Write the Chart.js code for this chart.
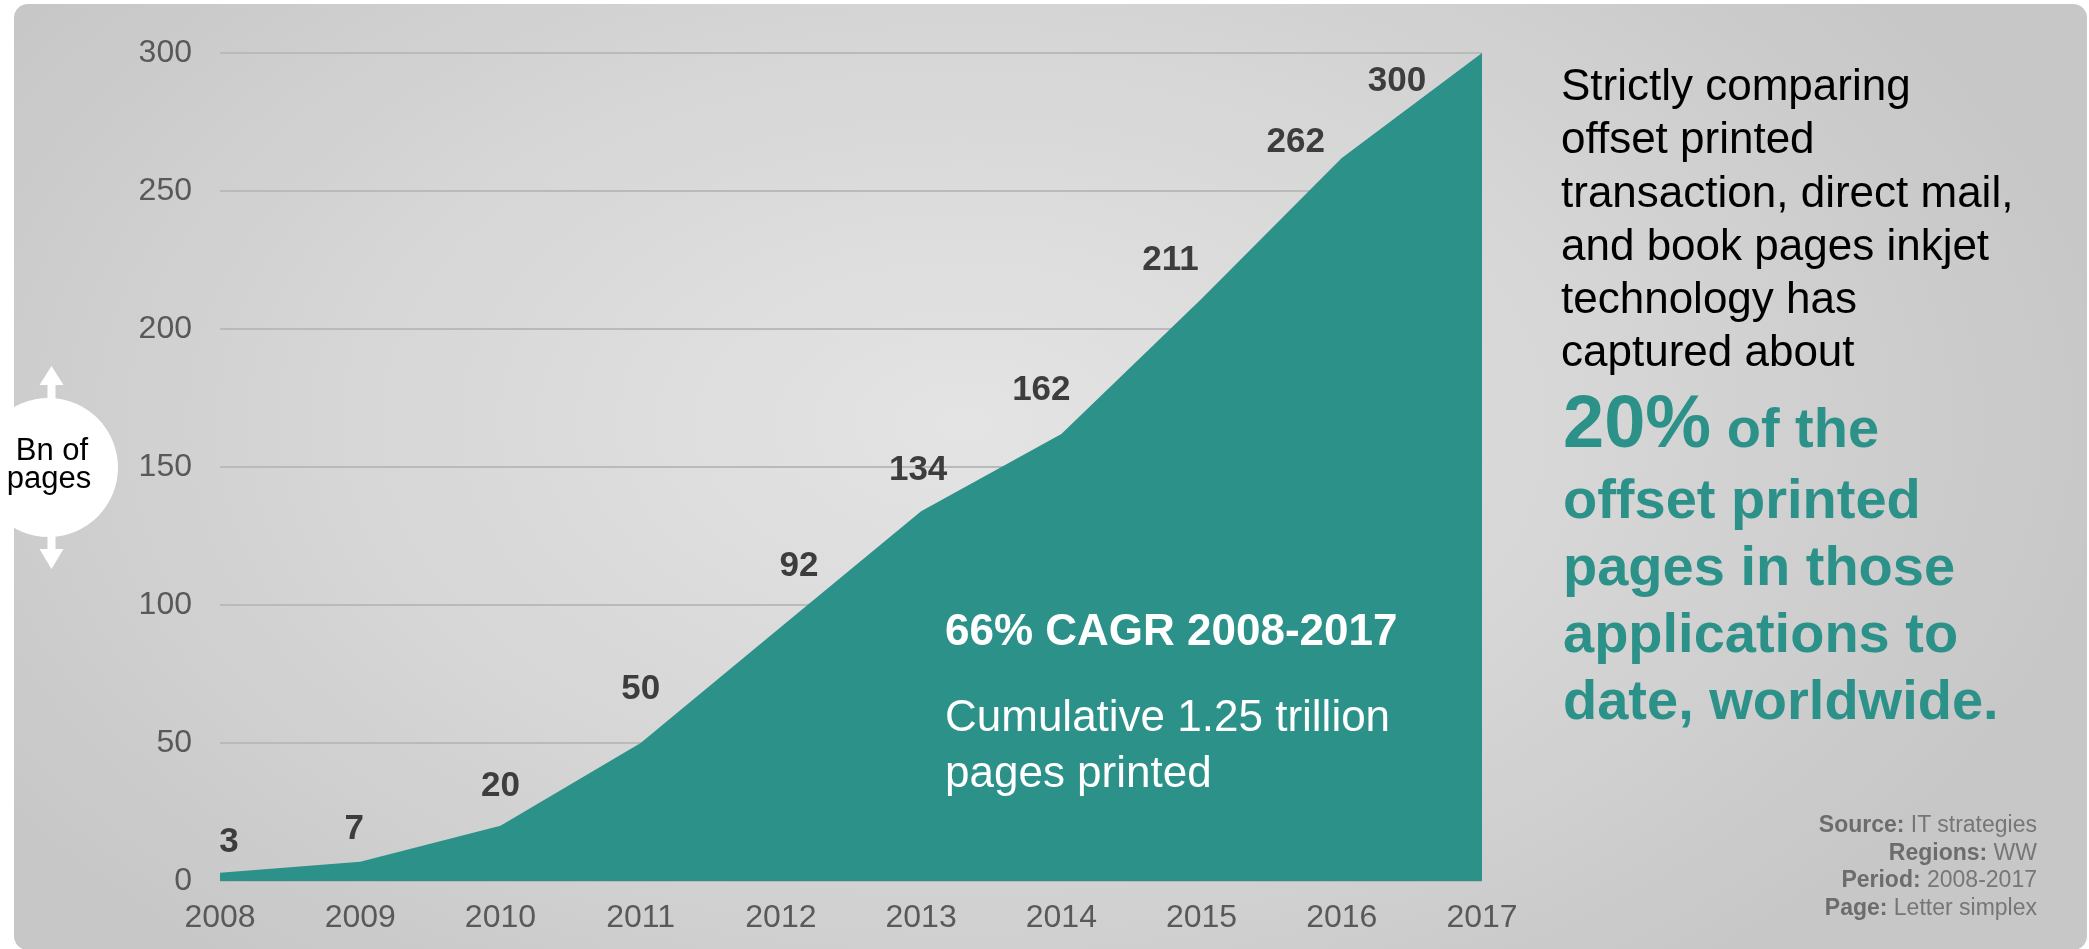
<!DOCTYPE html>
<html>
<head>
<meta charset="utf-8">
<script src="https://cdn.jsdelivr.net/npm/chart.js@4.4.0/dist/chart.umd.min.js"></script>
<style>
    html, body { margin: 0; padding: 0; background: #fff; width: 2089px; height: 949px; overflow: hidden; }
    body { position: relative; font-family: "Liberation Sans", Arial, sans-serif; }
    #panel {
        position: absolute; left: 14px; top: 4px; width: 2073px; height: 946px; border-radius: 14px;
        background: radial-gradient(ellipse 1150px 700px at 950px 420px, #e4e4e4 0%, #d6d6d6 55%, #c7c7c7 100%);
    }
    #chart { position: absolute; left: 0; top: 0; }
    .txt { position: absolute; white-space: nowrap; }
    #side { left: 1561px; top: 58px; font-size: 44px; line-height: 53.3px; color: #000; }
    #big1 { left: 1563px; top: 385px; font-size: 74px; line-height: 1; color: #2c9189; font-weight: bold; }
    #big1 span { font-size: 56px; }
    #big2 { left: 1563px; top: 465px; font-size: 56px; line-height: 67px; color: #2c9189; font-weight: bold; }
    #cagr { left: 945px; top: 608px; font-size: 44px; line-height: 1; color: #fff; font-weight: bold; }
    #cumul { left: 945px; top: 688px; font-size: 44px; line-height: 56px; color: #fff; }
    #source { right: 52px; top: 811px; font-size: 23px; line-height: 27.5px; color: #767676; text-align: right; }
    #source b { color: #6c6c6c; }
    #unit { position: absolute; left: 0; top: 0; }
</style>
</head>
<body>
<div id="panel"></div>
<canvas id="chart" width="2089" height="949"></canvas>

<svg id="unit" width="140" height="600">
    <circle cx="48.5" cy="467.5" r="69.5" fill="#fff"/>
    <polygon points="51.5,366 63.5,385 55.5,385 55.5,402 47.5,402 47.5,385 39.5,385" fill="#fff"/>
    <polygon points="51.5,569 63.5,549 55.5,549 55.5,533 47.5,533 47.5,549 39.5,549" fill="#fff"/>
    <text x="52" y="460" text-anchor="middle" font-family="Liberation Sans, Arial, sans-serif" font-size="31" fill="#000">Bn of</text>
    <text x="49" y="488" text-anchor="middle" font-family="Liberation Sans, Arial, sans-serif" font-size="31" fill="#000">pages</text>
</svg>

<div class="txt" id="side">Strictly comparing<br>offset printed<br>transaction, direct mail,<br>and book pages inkjet<br>technology has<br>captured about</div>
<div class="txt" id="big1">20%<span> of the</span></div>
<div class="txt" id="big2">offset printed<br>pages in those<br>applications to<br>date, worldwide.</div>
<div class="txt" id="cagr">66% CAGR 2008-2017</div>
<div class="txt" id="cumul">Cumulative 1.25 trillion<br>pages printed</div>
<div class="txt" id="source"><b>Source:</b> IT strategies<br><b>Regions:</b> WW<br><b>Period:</b> 2008-2017<br><b>Page:</b> Letter simplex</div>

<script>
// Données : milliards de pages imprimées en jet d'encre
const years = ['2008', '2009', '2010', '2011', '2012', '2013', '2014', '2015', '2016', '2017'];
const pages = [3, 7, 20, 50, 92, 134, 162, 211, 262, 300];
const yTicks = [0, 50, 100, 150, 200, 250, 300];

// Décalage des étiquettes (placées à la main dans l'original)
const labelNudges = [[9, -30], [-6, -32], [0, -39], [0, -54], [18, -61], [-3, -41], [-20, -44], [-31, -38], [-46, -16], [-85, 28]];

const teal = '#2c9189';
const fontFamily = '"Liberation Sans", Arial, sans-serif';

const valueLabels = {
    id: 'valueLabels',
    afterDatasetsDraw(chart) {
        const ctx = chart.ctx;
        const meta = chart.getDatasetMeta(0);
        ctx.save();
        ctx.font = 'bold 35px ' + fontFamily;
        ctx.fillStyle = '#3d3d3d';
        ctx.textAlign = 'center';
        ctx.textBaseline = 'middle';
        meta.data.forEach((pt, i) => {
            const n = labelNudges[i] || [0, -35];
            ctx.fillText(String(pages[i]), pt.x + n[0], pt.y + n[1]);
        });
        ctx.restore();
    }
};

new Chart(document.getElementById('chart').getContext('2d'), {
    type: 'line',
    data: {
        labels: years,
        datasets: [{
            data: pages,
            fill: 'origin',
            backgroundColor: teal,
            borderWidth: 0,
            borderColor: teal,
            pointRadius: 0,
            tension: 0
        }]
    },
    options: {
        responsive: false,
        devicePixelRatio: 1,
        animation: false,
        layout: { padding: { left: 0, top: 53, right: 607, bottom: 0 } },
        plugins: { legend: { display: false }, tooltip: { enabled: false } },
        scales: {
            x: {
                offset: false,
                grid: { display: false, drawTicks: false },
                border: { display: false },
                ticks: { color: '#595959', font: { family: fontFamily, size: 32 }, padding: 18, maxRotation: 0 },
                afterFit: (s) => { s.height = 68; }
            },
            y: {
                min: yTicks[0],
                max: yTicks[yTicks.length - 1],
                grid: { color: '#bababa', lineWidth: 2, drawTicks: false },
                border: { display: false },
                ticks: { stepSize: yTicks[1] - yTicks[0], color: '#595959', font: { family: fontFamily, size: 32 }, padding: 28 },
                afterFit: (s) => { s.width = 220; }
            }
        }
    },
    plugins: [valueLabels]
});
</script>
</body>
</html>
